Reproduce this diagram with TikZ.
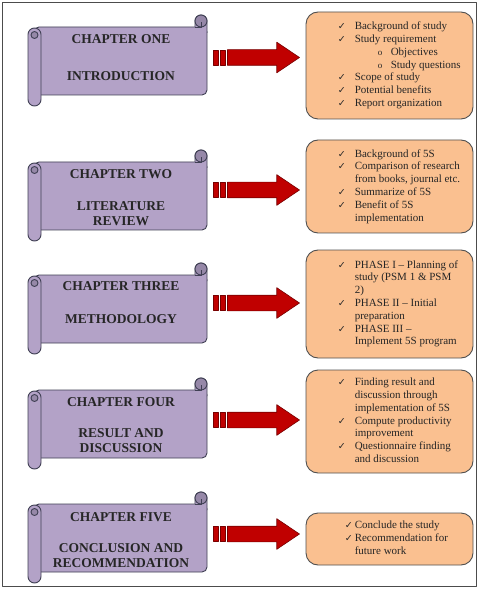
\documentclass[tikz,border=0pt]{standalone}
\usepackage{fontspec}
\setmainfont{Liberation Serif}
\newfontfamily\symfont{DejaVu Sans}
\definecolor{scrollpurple}{RGB}{179,162,199}
\definecolor{scrolldark}{RGB}{150,136,168}
\definecolor{scrollline}{RGB}{64,64,84}
\definecolor{boxorange}{RGB}{250,192,144}
\definecolor{boxline}{RGB}{80,80,80}
\definecolor{arrowred}{RGB}{192,0,0}
\definecolor{arrowline}{RGB}{120,0,0}
\usetikzlibrary{positioning,shapes.arrows}
\newcommand{\ckmark}[1][17pt]{\makebox[#1][l]{\symfont\fontsize{9.5}{9}\selectfont ✓}}
\newcommand{\subpoint}{\hspace{23pt}\makebox[13pt][l]{\fontsize{9}{9}\selectfont o}}
% scroll drawn with its sheet top at #1
\newcommand{\chapscroll}[1]{%
  \begin{scope}[shift={(0,#1)}]
    \draw[scrollbody,rounded corners=5pt] (34,0) rectangle (207,68);
    \draw[scrollbody] (195,0) -- (195,-6) arc[start angle=180,end angle=0,radius=6pt] -- (207,6);
    \draw[scrollcurl] (201,-6) circle[radius=6pt];
    \draw[scrollline,line width=0.7pt] (195,0) -- (201,0) -- (201,-5);
    \draw[scrollbody,rounded corners=6.5pt] (28,1) rectangle (41,79);
    \draw[scrollcurl] (34.5,8) circle[radius=3.5pt];
  \end{scope}}

\begin{document}
\begin{tikzpicture}[x=1pt,y=-1pt,line join=round,
  scrollbody/.style={draw=scrollline,fill=scrollpurple,line width=0.9pt},
  scrollcurl/.style={draw=scrollline,fill=scrolldark,line width=0.9pt},
  scrolltext/.style={inner sep=0pt,align=center,font=\fontsize{13.5}{15.5}\selectfont\bfseries,text=black!85},
  infobox/.style={draw=boxline,fill=boxorange,line width=0.9pt,rounded corners=12pt,minimum width=167pt},
  boxtext/.style={inner sep=0pt,anchor=west,font=\fontsize{11}{12.8}\selectfont,text=black!85},
  blockarrow/.style={single arrow,draw=arrowline,fill=arrowred,line width=0.6pt,minimum height=72pt,
    inner xsep=0pt,inner ysep=7.5pt,single arrow head extend=7.5pt,single arrow tip angle=68},
  arrowbar/.style={draw=arrowline,fill=arrowred,line width=0.6pt,minimum width=4.5pt,minimum height=15pt,inner sep=0pt}]
  \useasboundingbox (0,0) rectangle (486,593);
  \fill[white] (0,0) rectangle (486,593);
  \draw[black!70,line width=0.9pt] (2,2) rectangle (476,586);
  % Chapter one
  \chapscroll{27}
  \node[scrolltext] (s1) at (121,57.4) {CHAPTER ONE\\[21.5pt]INTRODUCTION};
  \node[blockarrow,anchor=tip] (a1) at (300,57.5) {};
  \node[arrowbar,left=2pt of a1.tail] (a1b) {};
  \node[arrowbar,left=1.5pt of a1b] (a1c) {};
  \node[infobox,minimum height=107pt] (b1) at (389.5,65.5) {};
  \node[boxtext] (t1) at ([xshift=32pt]b1.west) {\begin{tabular}{@{}l@{}l@{}}
    \ckmark & Background of study\\
    \ckmark & Study requirement\\
     & \subpoint Objectives\\
     & \subpoint Study questions\\
    \ckmark & Scope of study\\
    \ckmark & Potential benefits\\
    \ckmark & Report organization
  \end{tabular}};
  % Chapter two
  \chapscroll{162}
  \node[scrolltext] (s2) at (121,197.5) {CHAPTER TWO\\[16.5pt]LITERATURE\\REVIEW};
  \node[blockarrow,anchor=tip] (a2) at (300,190) {};
  \node[arrowbar,left=2pt of a2.tail] (a2b) {};
  \node[arrowbar,left=1.5pt of a2b] (a2c) {};
  \node[infobox,minimum height=93pt] (b2) at (389.5,186.5) {};
  \node[boxtext] (t2) at ([xshift=32pt]b2.west) {\begin{tabular}{@{}l@{}l@{}}
    \ckmark & Background of 5S\\
    \ckmark & Comparison of research\\
     & from books, journal etc.\\
    \ckmark & Summarize of 5S\\
    \ckmark & Benefit of 5S\\
     & implementation
  \end{tabular}};
  % Chapter three
  \chapscroll{275}
  \node[scrolltext] (s3) at (121,302.5) {CHAPTER THREE\\[17.5pt]METHODOLOGY};
  \node[blockarrow,anchor=tip] (a3) at (300,303) {};
  \node[arrowbar,left=2pt of a3.tail] (a3b) {};
  \node[arrowbar,left=1.5pt of a3b] (a3c) {};
  \node[infobox,minimum height=108pt] (b3) at (389.5,304) {};
  \node[boxtext] (t3) at ([xshift=32pt]b3.west) {\begin{tabular}{@{}l@{}l@{}}
    \ckmark & PHASE I – Planning of\\
     & study (PSM 1 \& PSM\\
     & 2)\\
    \ckmark & PHASE II – Initial\\
     & preparation\\
    \ckmark & PHASE III –\\
     & Implement 5S program
  \end{tabular}};
  % Chapter four
  \chapscroll{390}
  \node[scrolltext] (s4) at (121,425.3) {CHAPTER FOUR\\[15.5pt]RESULT AND\\DISCUSSION};
  \node[blockarrow,anchor=tip] (a4) at (300,420) {};
  \node[arrowbar,left=2pt of a4.tail] (a4b) {};
  \node[arrowbar,left=1.5pt of a4b] (a4c) {};
  \node[infobox,minimum height=103pt] (b4) at (389.5,421.5) {};
  \node[boxtext] (t4) at ([xshift=32pt]b4.west) {\begin{tabular}{@{}l@{}l@{}}
    \ckmark & Finding result and\\
     & discussion through\\
     & implementation of 5S\\
    \ckmark & Compute productivity\\
     & improvement\\
    \ckmark & Questionnaire finding\\
     & and discussion
  \end{tabular}};
  % Chapter five
  \chapscroll{504}
  \node[scrolltext] (s5) at (121,540.3) {CHAPTER FIVE\\[15.5pt]CONCLUSION AND\\RECOMMENDATION};
  \node[blockarrow,anchor=tip] (a5) at (300,534) {};
  \node[arrowbar,left=2pt of a5.tail] (a5b) {};
  \node[arrowbar,left=1.5pt of a5b] (a5c) {};
  \node[infobox,minimum height=52pt] (b5) at (389.5,539) {};
  \node[boxtext] (t5) at ([xshift=39pt]b5.west) {\begin{tabular}{@{}l@{}l@{}}
    \ckmark[10pt] & Conclude the study\\
    \ckmark[10pt] & Recommendation for\\
     & future work
  \end{tabular}};
\end{tikzpicture}
\end{document}
